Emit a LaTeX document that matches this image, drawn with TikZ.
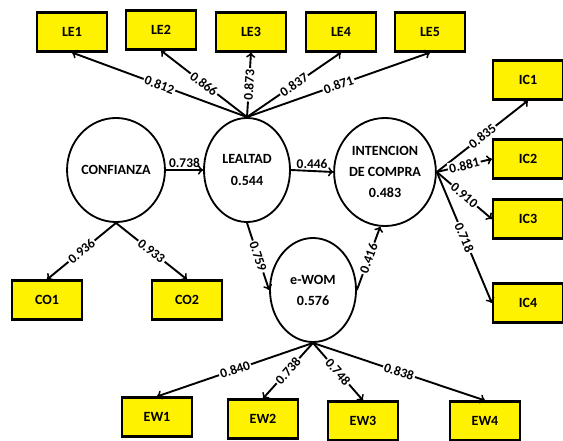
\documentclass[tikz,border=0pt]{standalone}
\usepackage{fontspec}
\setmainfont{Carlito}
\usetikzlibrary{shapes.geometric}

\begin{document}
\begin{tikzpicture}[x=0.025cm,y=-0.025cm,
   ind/.style={draw=black,fill=yellow,line width=1.6pt,minimum width=1.75cm,minimum height=0.97cm,
               font=\fontsize{10}{12}\selectfont\bfseries},
   lat/.style={draw=black,ellipse,line width=1.3pt,minimum width=2.15cm,minimum height=2.6cm,
               inner sep=0pt,align=center,font=\fontsize{10}{15}\selectfont\bfseries},
   lnk/.style={->,line width=1.35pt},
   lbl/.style={font=\fontsize{9.5}{11}\selectfont\bfseries,inner sep=1pt},
   ld/.style={lbl,sloped,fill=white}]
         \useasboundingbox (0,0) rectangle (563,440) ;
         %\draw[very thin,gray,step=20] (0,0) grid (563,440) ;
         % constructos
         \node[lat] (confianza) at (116,170) {CONFIANZA} ;
         \node[lat] (lealtad) at (247,170) {LEALTAD\\0.544} ;
         \node[lat,minimum height=2.7cm] (intencion) at (385,172) {INTENCION\\DE COMPRA\\0.483} ;
         \node[lat] (ewom) at (313,290) {e-WOM\\0.576} ;
         % indicadores
         \node[ind] (le1) at (72,32) {LE1} ;
         \node[ind] (le2) at (161,30) {LE2} ;
         \node[ind] (le3) at (251,32) {LE3} ;
         \node[ind] (le4) at (341,32) {LE4} ;
         \node[ind] (le5) at (430,32) {LE5} ;
         \node[ind] (ic1) at (528,80) {IC1} ;
         \node[ind] (ic2) at (528,159) {IC2} ;
         \node[ind] (ic3) at (528,219) {IC3} ;
         \node[ind] (ic4) at (528,303) {IC4} ;
         \node[ind] (co1) at (47,300) {CO1} ;
         \node[ind] (co2) at (187,300) {CO2} ;
         \node[ind] (ew1) at (157,417) {EW1} ;
         \node[ind] (ew2) at (263,419) {EW2} ;
         \node[ind] (ew3) at (363,421) {EW3} ;
         \node[ind] (ew4) at (485,421) {EW4} ;
         % cargas
         \draw[lnk] (lealtad.north) -- node[ld] {0.812} (le1.south) ;
         \draw[lnk] (lealtad.north) -- node[ld] {0.866} (le2.south) ;
         \draw[lnk] (lealtad.north) -- node[ld] {0.873} (le3.south) ;
         \draw[lnk] (lealtad.north) -- node[ld] {0.837} (le4.south) ;
         \draw[lnk] (lealtad.north) -- node[ld] {0.871} (le5.south) ;
         \draw[lnk] (intencion.east) -- node[ld] {0.835} (ic1.south) ;
         \draw[lnk] (intencion.east) -- node[ld] {0.881} (ic2.west) ;
         \draw[lnk] (intencion.east) -- node[ld] {0.910} (ic3.west) ;
         \draw[lnk] (intencion.east) -- node[ld] {0.718} (ic4.west) ;
         \draw[lnk] (confianza.south) -- node[ld] {0.936} (co1.north) ;
         \draw[lnk] (confianza.south) -- node[ld] {0.933} (co2.north) ;
         \draw[lnk] (ewom.south) -- node[ld] {0.840} (ew1.north) ;
         \draw[lnk] (ewom.south) -- node[ld] {0.738} (ew2.north) ;
         \draw[lnk] (ewom.south) -- node[ld] {0.748} (ew3.north) ;
         \draw[lnk] (ewom.south) -- node[ld] {0.838} (ew4.north) ;
         % relaciones estructurales
         \draw[lnk] (confianza.east) -- node[lbl,above] {0.738} (lealtad.west) ;
         \draw[lnk] (lealtad.east) -- node[lbl,above] {0.446} (intencion.west) ;
         \draw[lnk] (lealtad.south) -- node[ld] {0.759} (ewom.west) ;
         \draw[lnk] (ewom.east) -- node[ld] {0.416} (intencion.265) ;
       \end{tikzpicture}
\end{document}
